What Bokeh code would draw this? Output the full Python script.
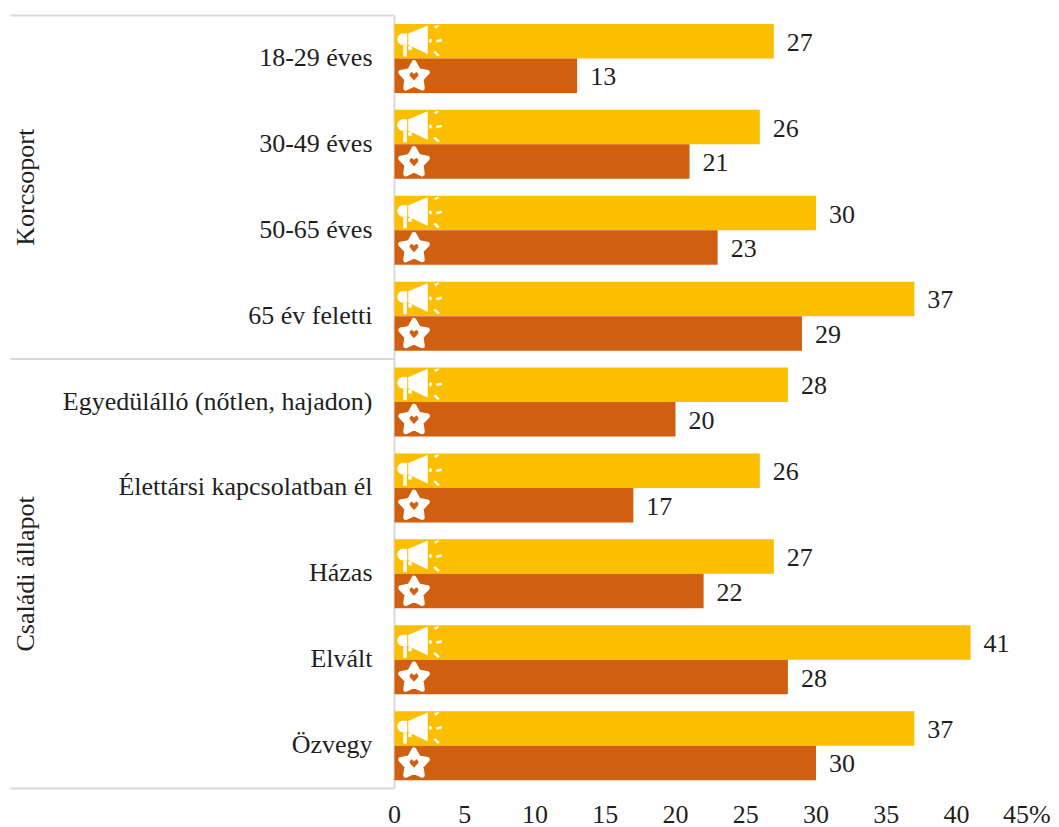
import math
from bokeh.plotting import figure
from bokeh.models import Range1d, FixedTicker, ColumnDataSource
from bokeh.core.properties import value
from bokeh.embed import file_html
from bokeh.resources import INLINE

categories = ["18-29 éves", "30-49 éves", "50-65 éves", "65 év feletti",
              "Egyedülálló (nőtlen, hajadon)", "Élettársi kapcsolatban él",
              "Házas", "Elvált", "Özvegy"]
series_yellow = [27, 26, 30, 37, 28, 26, 27, 41, 37]
series_orange = [13, 21, 23, 29, 20, 17, 22, 28, 30]
group_names = ["Korcsoport", "Családi állapot"]
group_sizes = [4, 5]
x_ticks = [0, 5, 10, 15, 20, 25, 30, 35, 40, 45]

YELLOW = "#FBBF00"
ORANGE = "#D0600F"
RULE = "#D9D9D9"
INK = "#1F1F1F"
SERIF = value("Liberation Serif")
FONT_SIZE = "26px"

PX_X = 14.05      # pixels per percentage point
PX_Y = 85.9       # pixels per category row
FRAME_L, FRAME_R, FRAME_T, FRAME_B = 8, 1059, 13, 827
ZERO_PX, TOP_PX = 394, 15
AXIS_PX = 790

def dx(px):
    return px / PX_X

def dy(px):
    return px / PX_Y

p = figure(width=1059, height=827, output_backend="svg", toolbar_location=None,
           x_range=Range1d((FRAME_L - ZERO_PX) / PX_X, (FRAME_R - ZERO_PX) / PX_X),
           y_range=Range1d((FRAME_B - TOP_PX) / PX_Y, (FRAME_T - TOP_PX) / PX_Y),
           min_border_left=FRAME_L, min_border_right=1059 - FRAME_R,
           min_border_top=FRAME_T, min_border_bottom=827 - FRAME_B)
p.outline_line_color = None
p.background_fill_color = "white"
p.border_fill_color = "white"
p.grid.visible = False
p.yaxis.visible = False

ax = p.xaxis[0]
ax.fixed_location = (AXIS_PX - TOP_PX) / PX_Y
ax.ticker = FixedTicker(ticks=x_ticks)
ax.major_label_overrides = {45: "45%"}
ax.axis_line_color = None
ax.major_tick_line_color = None
ax.minor_tick_line_color = None
ax.major_tick_out = 0
ax.major_tick_in = 0
ax.major_label_standoff = 9
ax.major_label_text_font = "Liberation Serif"
ax.major_label_text_font_size = FONT_SIZE
ax.major_label_text_color = INK

# Frame rules around the category labels and between the two groups
n = len(categories)
left_end = dx(10 - ZERO_PX)
p.segment(x0=[left_end, left_end, 0], x1=[0, 0, 0], y0=[0, n, 0], y1=[0, n, n],
          line_color=RULE, line_width=2)
edge = 0
for size in group_sizes[:-1]:
    edge += size
    p.segment(x0=[left_end], x1=[0], y0=[edge], y1=[edge], line_color=RULE, line_width=2)

rows = [i + 0.5 for i in range(n)]
bar_h = dy(34.5)
source = ColumnDataSource(dict(
    cat=categories,
    y_top=[r - bar_h / 2 for r in rows],
    y_bot=[r + bar_h / 2 for r in rows],
    yellow=series_yellow,
    orange=series_orange,
    yellow_txt=[str(v) for v in series_yellow],
    orange_txt=[str(v) for v in series_orange],
    mid=rows,
    zero=[0] * n,
))

p.hbar(y="y_top", left="zero", right="yellow", height=bar_h, fill_color=YELLOW,
       line_color=None, source=source)
p.hbar(y="y_bot", left="zero", right="orange", height=bar_h, fill_color=ORANGE,
       line_color=None, source=source)

label_style = dict(text_font=SERIF, text_font_size=FONT_SIZE, text_color=INK,
                   text_baseline="middle", source=source)
p.text(x="yellow", y="y_top", text="yellow_txt", x_offset=13, y_offset=1, **label_style)
p.text(x="orange", y="y_bot", text="orange_txt", x_offset=13, y_offset=1, **label_style)
p.text(x=dx(372 - ZERO_PX), y="mid", text="cat", text_align="right", y_offset=-1, **label_style)

# Vertical group captions
start = 0
for name, size in zip(group_names, group_sizes):
    p.text(x=[dx(25 - ZERO_PX)], y=[start + size / 2], text=[name], angle=math.pi / 2,
           text_font=SERIF, text_font_size=FONT_SIZE, text_color=INK,
           text_align="center", text_baseline="middle")
    start += size

# Icons sit at a fixed pixel offset from the axis, inside every bar
def shape(points, ox, oy):
    return [dx(x) + ox for x, _ in points], [dy(y) + oy for _, y in points]

cone = [(14, -7.5), (33, -15.5), (33, 12.5), (14, 3.5)]
handle = [(9, 4), (12, 4), (12, 15), (9, 15)]
strut = [(14, 5), (17, 5), (17, 8.5), (14, 8.5)]
rays = [[(40, -15), (44, -16), (44, -15), (41, -13)],
        [(35, -2), (37, -2), (37, 1), (35, 1)],
        [(42, -1), (47, -2), (47, 0), (42, 1)],
        [(39, 11), (41, 10), (45, 14), (43, 15)]]
rear = [(12.5, -7.5), (8, -7.5), (5.5, -6.8), (3.8, -5), (3, -2), (3.8, 1), (5.5, 2.8), (8, 3.5), (12.5, 3.5)]

xs, ys = [], []
for yc in source.data["y_top"]:
    for part in [cone, handle, strut, rear] + rays:
        a, b = shape(part, 0, yc)
        xs.append(a)
        ys.append(b)
p.patches(xs, ys, fill_color="white", line_color="white", line_width=0.5, line_join="round")

def star_points(cx, outer, inner):
    pts = []
    for k in range(10):
        rad = outer if k % 2 == 0 else inner
        ang = -math.pi / 2 + k * math.pi / 5
        pts.append((cx + rad * math.cos(ang), rad * math.sin(ang) + 1))
    return pts

star = star_points(19.5, 14, 7.5)
heart = [(19.5, 4.5), (15.5, 0), (15.5, -2), (17, -3.5), (19.5, -1.5), (22, -3.5), (23.5, -2), (23.5, 0)]
sx, sy, hx, hy = [], [], [], []
for yc in source.data["y_bot"]:
    a, b = shape(star, 0, yc)
    sx.append(a); sy.append(b)
    a, b = shape(heart, 0, yc)
    hx.append(a); hy.append(b)
p.patches(sx, sy, fill_color="white", line_color="white", line_width=5, line_join="round")
p.patches(hx, hy, fill_color=ORANGE, line_color=ORANGE, line_width=0.5, line_join="round")

open("out.html", "w").write(file_html(p, INLINE))
